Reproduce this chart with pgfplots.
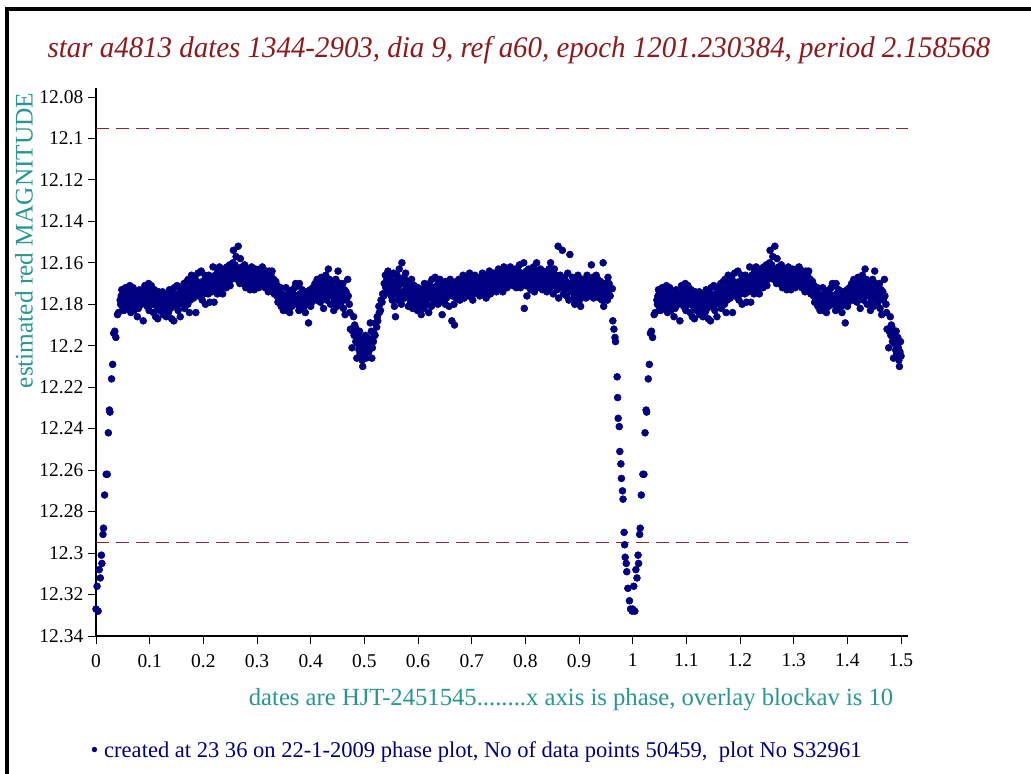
\documentclass[border=0pt]{standalone}
\usepackage{pgfplots}
\pgfplotsset{compat=1.18}
\usepackage{pgfplotstable}
\usepackage{fontspec}
\setmainfont{Liberation Serif}
\definecolor{titlered}{RGB}{140,26,30}
\definecolor{tealc}{RGB}{40,150,145}
\definecolor{navyc}{RGB}{0,0,128}
\definecolor{dashred}{RGB}{140,40,40}

\pgfplotstableread[row sep=\\]{
p m\\
0.000 12.327\\ 0.004 12.328\\ 0.002 12.316\\ 0.008 12.312\\ 0.006 12.308\\ 0.011 12.305\\ 0.010 12.301\\ 0.013 12.291\\ 0.014 12.288\\ 0.016 12.272\\ 0.019 12.262\\ 0.021 12.262\\ 0.023 12.242\\ 0.025 12.231\\ 0.026 12.232\\ 0.029 12.216\\ 0.031 12.209\\ 0.033 12.194\\ 0.035 12.193\\ 0.037 12.196\\ 0.040 12.185\\ 0.042 12.184\\
0.045 12.178\\ 0.046 12.180\\ 0.047 12.176\\ 0.048 12.173\\ 0.049 12.181\\
0.051 12.178\\ 0.052 12.183\\ 0.053 12.175\\ 0.054 12.179\\ 0.055 12.172\\
0.057 12.177\\ 0.058 12.182\\ 0.059 12.174\\ 0.060 12.181\\ 0.061 12.176\\
0.063 12.171\\ 0.064 12.179\\ 0.065 12.184\\ 0.066 12.175\\ 0.067 12.180\\
0.069 12.172\\ 0.070 12.178\\ 0.071 12.183\\ 0.072 12.176\\ 0.073 12.181\\
0.075 12.174\\ 0.076 12.179\\ 0.077 12.186\\ 0.078 12.177\\ 0.079 12.182\\
0.081 12.173\\ 0.082 12.178\\ 0.084 12.175\\ 0.085 12.180\\ 0.086 12.176\\
0.088 12.188\\ 0.089 12.177\\ 0.091 12.171\\ 0.092 12.179\\ 0.093 12.174\\
0.094 12.172\\ 0.095 12.181\\ 0.097 12.176\\ 0.098 12.170\\ 0.099 12.183\\
0.100 12.178\\ 0.101 12.173\\ 0.103 12.171\\ 0.104 12.180\\ 0.105 12.175\\
0.106 12.177\\ 0.107 12.184\\ 0.109 12.173\\ 0.110 12.179\\ 0.111 12.186\\
0.112 12.175\\ 0.113 12.181\\ 0.115 12.187\\ 0.116 12.178\\ 0.117 12.174\\
0.118 12.180\\ 0.119 12.183\\ 0.121 12.176\\ 0.122 12.182\\ 0.123 12.179\\
0.124 12.174\\ 0.125 12.185\\ 0.127 12.181\\ 0.128 12.177\\ 0.129 12.183\\
0.130 12.179\\ 0.131 12.186\\ 0.133 12.175\\ 0.134 12.180\\ 0.135 12.184\\
0.136 12.178\\ 0.137 12.173\\ 0.139 12.182\\ 0.140 12.176\\ 0.141 12.187\\
0.142 12.174\\ 0.143 12.179\\ 0.145 12.188\\ 0.146 12.172\\ 0.147 12.177\\
0.148 12.176\\ 0.149 12.181\\ 0.151 12.171\\ 0.152 12.178\\ 0.153 12.183\\
0.154 12.175\\ 0.155 12.180\\ 0.157 12.186\\ 0.158 12.173\\ 0.159 12.177\\
0.160 12.172\\ 0.161 12.179\\ 0.163 12.175\\ 0.164 12.170\\ 0.165 12.182\\
0.166 12.177\\ 0.167 12.174\\ 0.169 12.169\\ 0.170 12.173\\ 0.171 12.180\\
0.172 12.168\\ 0.173 12.176\\ 0.174 12.184\\ 0.175 12.172\\ 0.176 12.178\\
0.178 12.166\\ 0.179 12.174\\ 0.180 12.170\\ 0.181 12.171\\ 0.182 12.177\\
0.184 12.167\\ 0.185 12.175\\ 0.186 12.184\\ 0.187 12.173\\ 0.188 12.169\\
0.190 12.165\\ 0.191 12.176\\ 0.192 12.171\\ 0.193 12.170\\ 0.194 12.174\\
0.196 12.164\\ 0.197 12.172\\ 0.198 12.178\\ 0.199 12.169\\ 0.200 12.175\\
0.202 12.171\\ 0.203 12.166\\ 0.204 12.180\\ 0.205 12.173\\ 0.206 12.168\\
0.208 12.170\\ 0.209 12.175\\ 0.210 12.166\\ 0.211 12.172\\ 0.212 12.179\\
0.214 12.167\\ 0.215 12.171\\ 0.216 12.174\\ 0.218 12.162\\ 0.219 12.169\\ 0.220 12.179\\
0.221 12.170\\ 0.222 12.166\\ 0.224 12.173\\ 0.225 12.168\\ 0.226 12.175\\
0.227 12.164\\ 0.228 12.171\\ 0.230 12.162\\ 0.231 12.169\\ 0.232 12.174\\
0.233 12.166\\ 0.234 12.172\\ 0.236 12.175\\ 0.237 12.168\\ 0.238 12.163\\
0.239 12.170\\ 0.240 12.165\\ 0.242 12.167\\ 0.243 12.172\\ 0.244 12.162\\
0.245 12.164\\ 0.246 12.169\\ 0.248 12.166\\ 0.249 12.161\\ 0.250 12.171\\
0.251 12.165\\ 0.252 12.168\\ 0.254 12.163\\ 0.255 12.160\\ 0.256 12.154\\ 0.257 12.167\\
0.258 12.166\\ 0.259 12.161\\ 0.261 12.157\\ 0.262 12.164\\ 0.263 12.168\\
0.265 12.152\\ 0.267 12.163\\ 0.268 12.170\\ 0.269 12.158\\
0.271 12.166\\ 0.272 12.162\\ 0.273 12.168\\ 0.274 12.164\\ 0.275 12.170\\
0.277 12.161\\ 0.278 12.167\\ 0.279 12.172\\ 0.280 12.165\\ 0.281 12.169\\
0.283 12.163\\ 0.284 12.170\\ 0.285 12.166\\ 0.286 12.168\\ 0.287 12.173\\
0.289 12.165\\ 0.290 12.162\\ 0.291 12.170\\ 0.292 12.167\\ 0.293 12.164\\
0.295 12.173\\ 0.296 12.168\\ 0.297 12.163\\ 0.298 12.166\\ 0.299 12.170\\
0.301 12.164\\ 0.302 12.169\\ 0.303 12.172\\ 0.304 12.167\\ 0.305 12.163\\
0.307 12.170\\ 0.308 12.165\\ 0.309 12.168\\ 0.310 12.162\\ 0.311 12.166\\
0.313 12.169\\ 0.314 12.165\\ 0.315 12.172\\ 0.316 12.167\\ 0.317 12.164\\
0.319 12.170\\ 0.320 12.166\\ 0.321 12.174\\ 0.322 12.168\\ 0.323 12.164\\
0.325 12.171\\ 0.326 12.166\\ 0.327 12.169\\ 0.328 12.164\\ 0.329 12.173\\
0.331 12.168\\ 0.332 12.175\\ 0.333 12.171\\ 0.334 12.173\\ 0.335 12.169\\
0.337 12.176\\ 0.338 12.171\\ 0.339 12.179\\ 0.340 12.174\\ 0.341 12.178\\
0.343 12.177\\ 0.344 12.172\\ 0.345 12.181\\ 0.346 12.179\\ 0.347 12.175\\
0.349 12.183\\ 0.350 12.177\\ 0.352 12.180\\ 0.353 12.176\\ 0.354 12.172\\
0.355 12.178\\ 0.356 12.183\\ 0.358 12.181\\ 0.359 12.177\\ 0.360 12.174\\
0.361 12.184\\ 0.362 12.179\\ 0.364 12.176\\ 0.365 12.181\\ 0.366 12.173\\
0.367 12.175\\ 0.368 12.179\\ 0.370 12.172\\ 0.371 12.177\\ 0.372 12.170\\
0.373 12.176\\ 0.374 12.180\\ 0.376 12.171\\ 0.377 12.178\\ 0.378 12.183\\
0.379 12.170\\ 0.380 12.175\\ 0.382 12.177\\ 0.383 12.182\\ 0.384 12.173\\
0.385 12.179\\ 0.386 12.175\\ 0.388 12.181\\ 0.389 12.176\\ 0.390 12.184\\
0.391 12.178\\ 0.392 12.174\\ 0.394 12.180\\ 0.395 12.176\\ 0.396 12.189\\
0.398 12.177\\ 0.399 12.173\\ 0.400 12.181\\ 0.401 12.175\\ 0.402 12.179\\
0.404 12.172\\ 0.405 12.177\\ 0.406 12.174\\ 0.407 12.176\\ 0.408 12.170\\
0.410 12.173\\ 0.411 12.178\\ 0.412 12.168\\ 0.413 12.171\\ 0.414 12.176\\
0.416 12.174\\ 0.417 12.169\\ 0.418 12.179\\ 0.419 12.172\\ 0.420 12.167\\
0.422 12.176\\ 0.423 12.170\\ 0.424 12.182\\ 0.425 12.174\\ 0.426 12.168\\
0.428 12.166\\ 0.429 12.172\\ 0.430 12.178\\ 0.431 12.170\\ 0.432 12.175\\ 0.433 12.163\\
0.435 12.168\\ 0.436 12.173\\ 0.437 12.180\\ 0.438 12.171\\ 0.439 12.176\\
0.441 12.174\\ 0.442 12.169\\ 0.443 12.183\\ 0.444 12.172\\ 0.445 12.178\\
0.447 12.168\\ 0.448 12.176\\ 0.449 12.181\\ 0.450 12.173\\ 0.451 12.164\\
0.453 12.170\\ 0.454 12.177\\ 0.455 12.175\\ 0.456 12.172\\ 0.457 12.179\\
0.459 12.175\\ 0.460 12.170\\ 0.461 12.182\\ 0.462 12.177\\ 0.463 12.173\\ 0.464 12.185\\
0.466 12.174\\ 0.467 12.178\\ 0.469 12.168\\ 0.470 12.176\\
0.472 12.180\\ 0.473 12.184\\ 0.474 12.192\\ 0.477 12.201\\ 0.478 12.193\\
0.480 12.186\\ 0.481 12.195\\ 0.482 12.190\\ 0.483 12.191\\ 0.484 12.198\\
0.486 12.206\\ 0.487 12.194\\ 0.488 12.199\\ 0.489 12.197\\ 0.490 12.202\\ 0.491 12.193\\
0.492 12.204\\ 0.493 12.199\\ 0.494 12.196\\ 0.495 12.201\\ 0.496 12.207\\ 0.497 12.210\\
0.498 12.203\\ 0.499 12.198\\ 0.500 12.205\\
}\dataA

\pgfplotstableread[row sep=\\]{
p m\\
0.501 12.200\\ 0.502 12.195\\ 0.503 12.206\\ 0.504 12.202\\ 0.505 12.200\\ 0.506 12.196\\
0.508 12.203\\ 0.509 12.198\\ 0.511 12.189\\ 0.512 12.197\\ 0.513 12.193\\
0.514 12.206\\ 0.515 12.201\\ 0.517 12.198\\ 0.518 12.194\\ 0.520 12.195\\ 0.521 12.189\\
0.523 12.191\\ 0.524 12.186\\ 0.525 12.188\\ 0.527 12.181\\ 0.528 12.184\\
0.530 12.183\\ 0.531 12.178\\ 0.533 12.179\\ 0.534 12.175\\ 0.536 12.176\\ 0.537 12.170\\
0.539 12.166\\ 0.540 12.172\\ 0.542 12.168\\ 0.543 12.174\\ 0.544 12.164\\
0.545 12.171\\ 0.546 12.166\\ 0.548 12.167\\ 0.549 12.173\\ 0.550 12.176\\
0.551 12.170\\ 0.552 12.178\\ 0.554 12.165\\ 0.555 12.172\\ 0.556 12.181\\
0.557 12.169\\ 0.558 12.186\\ 0.559 12.175\\ 0.561 12.166\\ 0.562 12.173\\ 0.563 12.178\\
0.564 12.171\\ 0.565 12.163\\ 0.567 12.168\\ 0.568 12.176\\ 0.569 12.180\\
0.570 12.160\\ 0.571 12.174\\ 0.573 12.170\\ 0.574 12.167\\ 0.575 12.177\\
0.577 12.165\\ 0.578 12.172\\ 0.580 12.174\\ 0.581 12.169\\ 0.582 12.181\\
0.583 12.176\\ 0.584 12.171\\ 0.586 12.179\\ 0.587 12.173\\ 0.588 12.168\\
0.589 12.175\\ 0.590 12.182\\ 0.592 12.177\\ 0.593 12.171\\ 0.594 12.179\\
0.595 12.180\\ 0.596 12.174\\ 0.598 12.176\\ 0.599 12.183\\ 0.600 12.172\\
0.601 12.178\\ 0.602 12.174\\ 0.604 12.181\\ 0.605 12.176\\ 0.606 12.185\\
0.607 12.173\\ 0.608 12.179\\ 0.610 12.176\\ 0.611 12.182\\ 0.612 12.170\\
0.613 12.178\\ 0.614 12.174\\ 0.616 12.172\\ 0.617 12.180\\ 0.618 12.176\\
0.620 12.184\\ 0.621 12.170\\ 0.623 12.177\\ 0.624 12.173\\ 0.625 12.181\\
0.626 12.168\\ 0.627 12.175\\ 0.629 12.172\\ 0.630 12.179\\ 0.631 12.176\\
0.632 12.167\\ 0.633 12.174\\ 0.635 12.171\\ 0.636 12.177\\ 0.637 12.180\\
0.638 12.174\\ 0.639 12.169\\ 0.641 12.168\\ 0.642 12.176\\
0.644 12.173\\ 0.645 12.185\\ 0.646 12.179\\ 0.647 12.171\\ 0.648 12.176\\
0.650 12.174\\ 0.651 12.180\\ 0.652 12.169\\ 0.653 12.177\\ 0.654 12.172\\
0.656 12.170\\ 0.657 12.175\\ 0.658 12.181\\ 0.660 12.168\\ 0.661 12.173\\
0.663 12.188\\ 0.664 12.176\\ 0.665 12.171\\ 0.666 12.174\\ 0.667 12.180\\ 0.668 12.190\\
0.670 12.172\\ 0.671 12.177\\ 0.672 12.169\\ 0.673 12.175\\ 0.674 12.170\\
0.676 12.168\\ 0.677 12.173\\ 0.678 12.178\\ 0.679 12.171\\ 0.680 12.176\\
0.682 12.169\\ 0.683 12.174\\ 0.684 12.166\\ 0.685 12.172\\ 0.686 12.177\\
0.688 12.167\\ 0.689 12.170\\ 0.690 12.175\\ 0.691 12.173\\ 0.692 12.168\\
0.694 12.171\\ 0.695 12.176\\ 0.696 12.165\\ 0.697 12.169\\ 0.698 12.174\\
0.700 12.172\\ 0.701 12.167\\ 0.702 12.178\\ 0.703 12.170\\ 0.704 12.175\\
0.706 12.166\\ 0.707 12.172\\ 0.708 12.169\\ 0.709 12.174\\ 0.710 12.168\\
0.713 12.169\\ 0.714 12.171\\ 0.715 12.176\\ 0.716 12.167\\ 0.717 12.173\\
0.719 12.170\\ 0.720 12.165\\ 0.721 12.175\\ 0.722 12.172\\ 0.723 12.168\\
0.725 12.166\\ 0.726 12.171\\ 0.727 12.177\\ 0.728 12.169\\ 0.729 12.174\\
0.731 12.167\\ 0.732 12.172\\ 0.733 12.164\\ 0.734 12.170\\ 0.735 12.175\\
0.737 12.168\\ 0.738 12.173\\ 0.739 12.166\\ 0.740 12.171\\ 0.741 12.165\\
0.744 12.165\\ 0.745 12.169\\ 0.746 12.174\\ 0.747 12.167\\ 0.748 12.172\\
0.750 12.163\\ 0.751 12.170\\ 0.752 12.168\\ 0.753 12.166\\ 0.754 12.171\\
0.756 12.164\\ 0.757 12.169\\ 0.758 12.174\\ 0.759 12.167\\ 0.760 12.162\\
0.762 12.170\\ 0.763 12.165\\ 0.764 12.168\\ 0.765 12.163\\ 0.766 12.172\\
0.768 12.166\\ 0.769 12.169\\ 0.770 12.164\\ 0.772 12.162\\ 0.773 12.170\\
0.775 12.167\\ 0.776 12.164\\ 0.777 12.171\\ 0.778 12.165\\ 0.779 12.169\\
0.781 12.163\\ 0.782 12.168\\ 0.783 12.172\\ 0.784 12.166\\ 0.785 12.170\\
0.787 12.164\\ 0.788 12.169\\ 0.789 12.161\\ 0.790 12.167\\ 0.791 12.172\\
0.793 12.165\\ 0.794 12.170\\ 0.795 12.168\\ 0.797 12.160\\ 0.798 12.182\\ 0.799 12.166\\
0.800 12.168\\ 0.801 12.171\\ 0.802 12.164\\ 0.803 12.176\\ 0.804 12.166\\
0.806 12.163\\ 0.807 12.169\\ 0.808 12.172\\ 0.810 12.173\\ 0.811 12.167\\
0.813 12.165\\ 0.814 12.170\\ 0.815 12.162\\ 0.816 12.168\\ 0.817 12.174\\
0.819 12.166\\ 0.820 12.171\\ 0.821 12.160\\ 0.822 12.164\\
0.824 12.169\\ 0.825 12.165\\ 0.826 12.172\\ 0.827 12.167\\ 0.828 12.163\\
0.830 12.170\\ 0.831 12.166\\ 0.832 12.173\\ 0.833 12.164\\ 0.834 12.168\\
0.836 12.171\\ 0.837 12.167\\ 0.838 12.165\\ 0.839 12.169\\ 0.840 12.174\\
0.842 12.166\\ 0.843 12.170\\ 0.844 12.163\\ 0.845 12.168\\ 0.846 12.172\\ 0.847 12.160\\
0.850 12.165\\ 0.851 12.170\\ 0.852 12.175\\ 0.853 12.167\\ 0.854 12.163\\
0.856 12.171\\ 0.857 12.166\\ 0.858 12.169\\ 0.859 12.173\\ 0.860 12.168\\ 0.861 12.152\\
0.862 12.177\\ 0.863 12.170\\ 0.865 12.166\\ 0.866 12.172\\ 0.867 12.168\\
0.869 12.154\\ 0.870 12.170\\ 0.871 12.175\\ 0.873 12.167\\ 0.874 12.173\\ 0.875 12.171\\
0.876 12.169\\ 0.877 12.176\\ 0.879 12.165\\ 0.880 12.172\\ 0.881 12.178\\
0.883 12.156\\ 0.885 12.170\\ 0.886 12.174\\ 0.888 12.167\\ 0.889 12.172\\ 0.890 12.177\\
0.891 12.175\\ 0.892 12.180\\ 0.894 12.169\\ 0.895 12.173\\ 0.896 12.171\\
0.897 12.176\\ 0.898 12.166\\ 0.900 12.172\\ 0.901 12.178\\ 0.902 12.170\\
0.903 12.181\\ 0.904 12.174\\ 0.906 12.168\\ 0.907 12.173\\ 0.908 12.176\\
0.909 12.171\\ 0.910 12.175\\ 0.912 12.173\\ 0.913 12.177\\ 0.914 12.169\\
0.915 12.166\\ 0.916 12.174\\ 0.918 12.171\\ 0.919 12.176\\ 0.920 12.172\\
0.921 12.174\\ 0.922 12.169\\ 0.923 12.161\\ 0.925 12.167\\ 0.926 12.173\\ 0.927 12.177\\
0.928 12.170\\ 0.929 12.175\\ 0.931 12.172\\ 0.932 12.166\\ 0.933 12.176\\
0.934 12.174\\ 0.935 12.168\\ 0.937 12.171\\ 0.938 12.177\\ 0.939 12.173\\
0.940 12.169\\ 0.941 12.175\\ 0.943 12.178\\ 0.944 12.172\\ 0.945 12.160\\
0.946 12.181\\ 0.947 12.175\\ 0.949 12.170\\ 0.950 12.176\\
0.952 12.173\\ 0.953 12.178\\ 0.954 12.167\\ 0.955 12.175\\ 0.956 12.170\\
0.958 12.176\\ 0.959 12.172\\
0.962 12.1725\\ 0.963 12.188\\ 0.965 12.192\\ 0.967 12.196\\ 0.968 12.198\\
0.971 12.215\\ 0.972 12.225\\ 0.973 12.235\\ 0.975 12.239\\ 0.976 12.251\\
0.978 12.257\\ 0.979 12.264\\ 0.981 12.270\\ 0.982 12.274\\ 0.984 12.290\\
0.985 12.296\\ 0.986 12.302\\ 0.988 12.305\\ 0.989 12.309\\ 0.991 12.317\\
0.994 12.323\\ 0.996 12.327\\ 0.999 12.328\\
}\dataB

\begin{document}
\begin{tikzpicture}[x=0.75pt,y=-0.75pt]
\useasboundingbox (0,0) rectangle (1031,774);
\fill[white] (0,0) rectangle (1031,774);
\draw[line width=2.6pt,black] (7,790) -- (7,9) -- (1045,9);
\coordinate (O) at (96,636);
\node[text=titlered,font=\fontsize{22.5}{26}\selectfont\itshape] at (519,50) {\scalebox{0.964}[1]{star a4813 dates 1344-2903, dia 9, ref a60, epoch 1201.230384, period 2.158568}};
\node[text=tealc,rotate=90,font=\fontsize{19}{22}\selectfont,anchor=east] at (24,88) {estimated red MAGNITUDE};
\node[text=tealc,font=\fontsize{18.5}{22}\selectfont,anchor=east] at (898,700) {dates are HJT-2451545........x axis is phase, overlay blockav is 10};
\node[text=navyc,font=\fontsize{16.9}{20}\selectfont,anchor=west] at (86,752) {\textbullet\ created at 23 36 on 22-1-2009 phase plot, No of data points 50459,\ \ plot No S32961};
\begin{axis}[
  at={(O)}, anchor=south west,
  scale only axis, width=609pt, height=411pt,
  xmin=0, xmax=1.513, ymin=12.0757, ymax=12.34,
  y dir=reverse,
  axis lines*=left,
  axis line style={line width=1.1pt,-},
  tick align=outside, major tick length=6pt,
  tick style={black,line width=0.6pt},
  xtick={0,0.1,...,1.5},
  xticklabels={0,0.1,0.2,0.3,0.4,0.5,0.6,0.7,0.8,0.9,1,1.1,1.2,1.3,1.4,1.5},
  ytick={12.08,12.1,12.12,12.14,12.16,12.18,12.2,12.22,12.24,12.26,12.28,12.3,12.32,12.34},
  yticklabels={12.08,12.1,12.12,12.14,12.16,12.18,12.2,12.22,12.24,12.26,12.28,12.3,12.32,12.34},
  /pgf/number format/assume math mode=true,
  ticklabel style={font=\fontsize{14.6}{17}\selectfont},
  xticklabel style={yshift=-4pt},
  yticklabel style={xshift=0pt},
  clip=false,
]
\addplot[dashred, line width=0.7pt, dash pattern=on 10pt off 5pt] coordinates {(0,12.095) (1.513,12.095)};
\addplot[dashred, line width=0.7pt, dash pattern=on 10pt off 5pt] coordinates {(0,12.295) (1.513,12.295)};
\addplot[only marks, mark=*, mark size=2.6pt, navyc, mark options={fill=navyc,draw=navyc}] table[x=p,y=m] {\dataA};
\addplot[only marks, mark=*, mark size=2.6pt, navyc, mark options={fill=navyc,draw=navyc}] table[x=p,y=m] {\dataB};
\addplot[only marks, mark=*, mark size=2.6pt, navyc, mark options={fill=navyc,draw=navyc}] table[x expr=\thisrow{p}+1,y=m] {\dataA};
\end{axis}
\end{tikzpicture}
\end{document}
